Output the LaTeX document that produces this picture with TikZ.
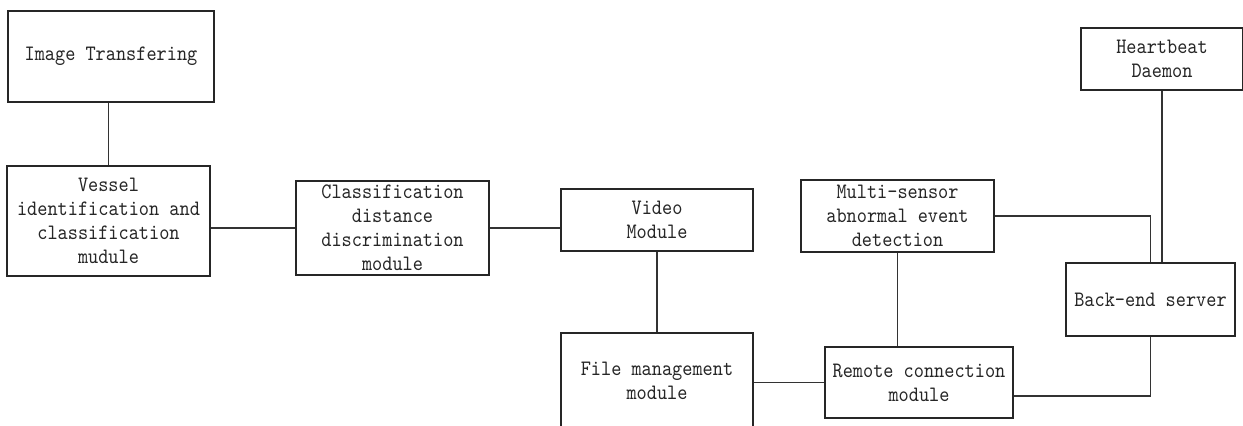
\documentclass[tikz,border=0pt]{standalone}
\usepackage{fontspec}
\newfontfamily\boxfont[FakeStretch=0.88]{Latin Modern Mono}
\usetikzlibrary{calc}
\tikzset{
  box/.style={draw=black!85, line width=0.75pt, rectangle, inner sep=0pt, align=center,
    font=\boxfont\fontsize{11pt}{12pt}\selectfont, text=black!85},
  link/.style={draw=black!80, line width=0.7pt}
}
\begin{document}
\begin{tikzpicture}[x=0.5pt,y=-0.5pt]
\useasboundingbox (0,0) rectangle (1243,425);
\clip (0,0) rectangle (1243,425);
\fill[white] (0,0) rectangle (1243,425);
\node[box, minimum width=103pt, minimum height=45.5pt] (img) at (111,56.5) {Image Transfering};
\node[box, minimum width=101.5pt, minimum height=55pt] (vessel) at (108.5,221) {Vessel\\identification and\\classification\\mudule};
\node[box, minimum width=96.5pt, minimum height=47pt] (class) at (392.5,228) {Classification\\distance\\discrimination\\module};
\node[box, minimum width=96pt, minimum height=31pt] (video) at (657,220) {Video\\Module};
\node[box, minimum width=96pt, minimum height=48pt] (file) at (657,381) {File management\\module};
\node[box, minimum width=96.5pt, minimum height=36pt] (multi) at (897.5,216) {Multi-sensor\\abnormal event\\detection};
\node[box, minimum width=94pt, minimum height=35.5pt] (remote) at (919,382.5) {Remote connection\\module};
\node[box, minimum width=81pt, minimum height=31pt] (heart) at (1162,59) {Heartbeat\\Daemon};
\node[box, minimum width=84.5pt, minimum height=36.5pt] (backend) at (1150.5,299.5) {Back-end server};
\draw[link] (vessel.north) -- (vessel.north |- img.south);
\draw[link] (class.west) -- (class.west -| vessel.east);
\draw[link] (class.east) -- (class.east -| video.west);
\draw[link] (video.south) -- (file.north);
\draw[link] (remote.west) -- (remote.west -| file.east);
\draw[link] (multi.south) -- (multi.south |- remote.north);
\draw[link] (multi.east) -| (backend.north);
\draw[link] (heart.south) -- (heart.south |- backend.north);
\coordinate (rb) at ($(remote.east)+(0,13.5)$);
\draw[link] (backend.south) |- (rb);
\end{tikzpicture}
\end{document}
